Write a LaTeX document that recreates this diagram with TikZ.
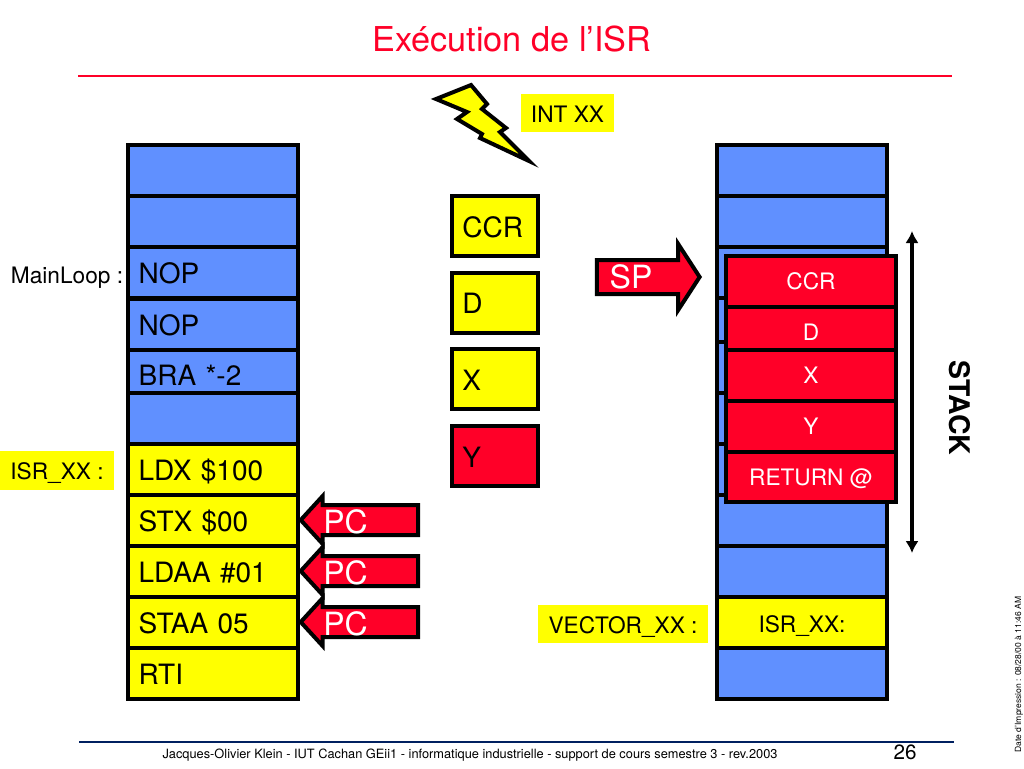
\documentclass[tikz,border=0pt]{standalone}
\usepackage{fontspec}
\setmainfont{TeX Gyre Heros}
\usetikzlibrary{shapes.arrows,arrows.meta}
\definecolor{cellblue}{RGB}{96,144,255}
\definecolor{cellyellow}{RGB}{255,255,0}
\definecolor{alarmred}{RGB}{255,0,40}
\definecolor{ruleblue}{RGB}{0,32,96}
\tikzset{
  blue cell/.style={draw, line width=3pt, fill=cellblue, minimum width=127.5pt, text width=111.5pt, align=left, inner sep=0pt, text height=16.5pt, text depth=0pt, font=\fontsize{21}{23}\selectfont},
  yellow cell/.style={blue cell, fill=cellyellow},
  reg cell/.style={draw, line width=3pt, fill=cellyellow, minimum width=64.5pt, minimum height=45pt, text width=49pt, align=left, inner sep=0pt, text height=16.5pt, text depth=0pt, font=\fontsize{21}{23}\selectfont},
  red cell/.style={draw, line width=3pt, fill=alarmred, text=white, minimum width=127.5pt, align=center, inner sep=0pt, text height=12.5pt, text depth=0pt, font=\fontsize{17}{19}\selectfont},
  tag/.style={fill=cellyellow, inner sep=0pt, text height=14pt, text depth=0pt, font=\fontsize{17}{19}\selectfont},
  pc arrow/.style={draw, line width=3pt, fill=alarmred, single arrow, shape border rotate=180, minimum height=88pt, text height=19.5pt, text depth=0pt, text width=0pt, single arrow head extend=6.75pt, single arrow tip angle=95, inner sep=0pt},
  big white/.style={text=white, inner sep=0pt, font=\fontsize{24}{26}\selectfont},
}
\begin{document}
\begin{tikzpicture}[x=0.75pt,y=-0.75pt]
\useasboundingbox (0,0) rectangle (1024,768);

\node[text=alarmred,font=\fontsize{25.7}{28}\selectfont] (title) at (512,39) {Exécution de l’ISR};
\coordinate (rtl) at (78,76);
\coordinate (rtr) at (952,76);
\draw[alarmred,line width=0.8pt] (rtl) -- (rtr);

% left memory
\node[blue cell,minimum height=38.25pt] (l1) at (213,170.5) {};
\node[blue cell,minimum height=38.25pt] (l2) at (213,221.5) {};
\node[blue cell,minimum height=38.25pt] (l3) at (213,272.5) {NOP};
\node[blue cell,minimum height=38.25pt] (l4) at (213,324) {NOP};
\node[blue cell,minimum height=32.25pt] (l5) at (213,371) {\raisebox{-2.5pt}{BRA *-2}};
\node[blue cell,minimum height=38.25pt] (l6) at (213,418) {};
\node[yellow cell,minimum height=38.25pt] (l7) at (213,469.5) {LDX \$100};
\node[yellow cell,minimum height=38.25pt] (l8) at (213,520.5) {STX \$00};
\node[yellow cell,minimum height=38.25pt] (l9) at (213,571.5) {LDAA \#01};
\node[yellow cell,minimum height=38.25pt] (l10) at (213,622.5) {STAA 05};
\node[yellow cell,minimum height=38.25pt] (l11) at (213,673.5) {RTI};

\node[text height=12.5pt,text depth=0pt,font=\fontsize{17}{19}\selectfont] (mainloop) at (67,275) {MainLoop :};
\node[tag,minimum width=85.5pt,minimum height=29pt] (isrtag) at (57,470.5) {ISR\_XX :};

% PC arrows
\node[pc arrow,anchor=tip] (pc1) at (298,520) {};
\node[pc arrow,anchor=tip] (pc2) at (298,571) {};
\node[pc arrow,anchor=tip] (pc3) at (298,622) {};
\node[big white] (pc1t) at (345.5,521.5) {PC};
\node[big white] (pc2t) at (345.5,572.5) {PC};
\node[big white] (pc3t) at (345.5,623.5) {PC};

% bolt
\draw[line width=3pt,fill=cellyellow,miter limit=10] (436,99) -- (471,85) -- (487,104) -- (482,109) -- (506,128) -- (500,132) -- (529,161) -- (480,138) -- (482,134) -- (457,119) -- (467,112) -- cycle;
\node[tag,minimum width=70pt,minimum height=28.5pt] (int) at (567.5,113) {INT XX};

% registers
\node[reg cell] (ccr) at (495,226) {CCR};
\node[reg cell] (d) at (495,302.5) {D};
\node[reg cell] (x) at (495,379) {X};
\node[reg cell,fill=alarmred] (y) at (495,456) {Y};

% SP arrow
\node[pc arrow,shape border rotate=0,minimum height=77pt,text height=22.5pt,single arrow head extend=12pt,single arrow tip angle=114,anchor=tip] (sp) at (702,277) {};
\node[big white] (spt) at (631,277) {SP};

% right memory
\node[blue cell,minimum height=38.25pt] (r1) at (802,170.5) {};
\node[blue cell,minimum height=38.25pt] (r2) at (802,221.5) {};
\node[blue cell,minimum height=38.25pt] (r3) at (802,272.5) {};
\node[blue cell,minimum height=33pt] (r4) at (802,320) {};
\node[blue cell,minimum height=38.25pt] (r5) at (802,367.5) {};
\node[blue cell,minimum height=38.25pt] (r6) at (802,418.5) {};
\node[blue cell,minimum height=38.25pt] (r7) at (802,469.5) {};
\node[blue cell,minimum height=38.25pt] (r8) at (802,520.5) {};
\node[blue cell,minimum height=38.25pt] (r9) at (802,571.5) {};
\node[yellow cell,minimum height=38.25pt,align=center,text height=14.5pt,font=\fontsize{17}{19}\selectfont] (r10) at (802,622.5) {ISR\_XX:};
\node[blue cell,minimum height=38.25pt] (r11) at (802,673.5) {};

\node[tag,minimum width=127.5pt,minimum height=28.5pt] (vectag) at (623,624) {VECTOR\_XX :};

% stack
\node[red cell,minimum height=38.25pt] (s1) at (811,281.5) {CCR};
\node[red cell,minimum height=32.25pt] (s2) at (811,328.5) {\raisebox{-3pt}{D}};
\node[red cell,minimum height=38.25pt] (s3) at (811,375.5) {X};
\node[red cell,minimum height=38.25pt] (s4) at (811,426.5) {Y};
\node[red cell,minimum height=37.5pt] (s5) at (811,477) {RETURN @};

\coordinate (stop) at (912,231);
\coordinate (sbot) at (912,553);
\draw[line width=2.5pt,{Latex[length=9pt,width=10pt]}-{Latex[length=9pt,width=10pt]}] (stop) -- (sbot);
\node[rotate=-90,font=\bfseries\fontsize{21.3}{23}\selectfont] (stack) at (960,408) {STACK};

% footer
\coordinate (fl) at (79,742);
\coordinate (fr) at (954,742);
\draw[ruleblue,line width=0.8pt] (fl) -- (fr);
\node[font=\fontsize{9.6}{11}\selectfont] (foot) at (470,755.5) {Jacques-Olivier Klein - IUT Cachan GEii1 - informatique industrielle - support de cours semestre 3 - rev.2003};
\node[font=\fontsize{15.5}{17}\selectfont] (page) at (905,752) {26};
\node[rotate=90,font=\fontsize{6.4}{7}\selectfont] (date) at (1019,674.5) {Date d’Impression : 08/28/00 à 11:46 AM};
\end{tikzpicture}
\end{document}
